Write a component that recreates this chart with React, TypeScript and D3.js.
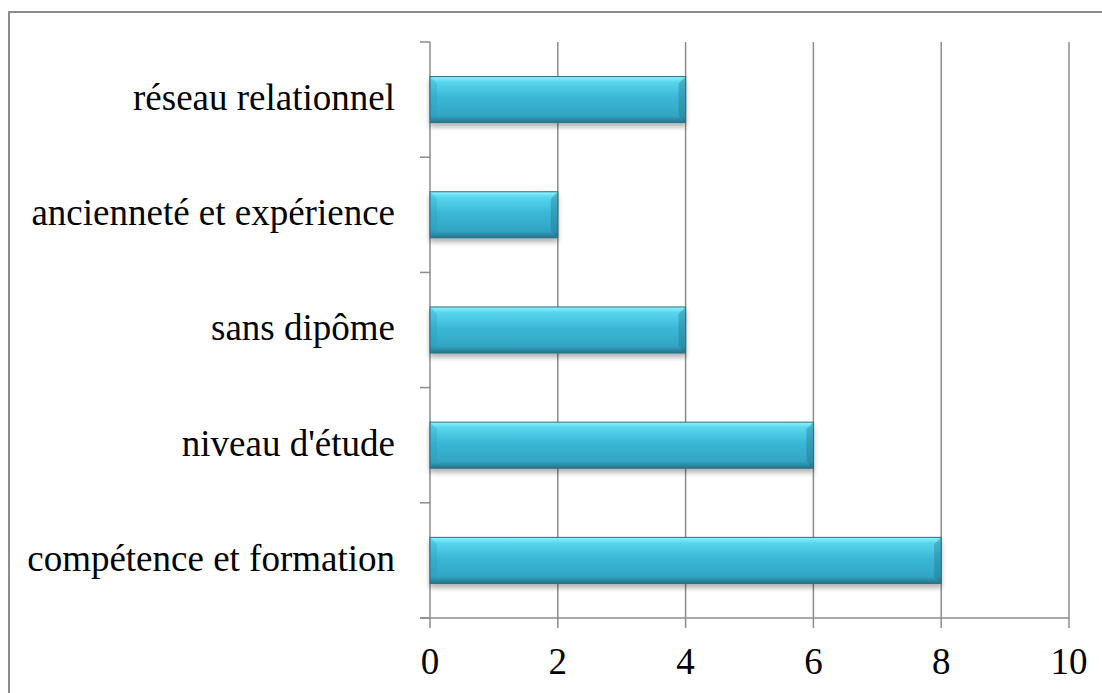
import React from 'react';
import * as d3 from 'd3';

// categories top -> bottom as drawn
const categories = [
  'réseau relationnel',
  'ancienneté et expérience',
  'sans dipôme',
  "niveau d'étude",
  'compétence et formation',
];
const values = [4, 2, 4, 6, 8];
const xTicks = [0, 2, 4, 6, 8, 10];

const W = 1102;
const H = 693;
const margin = { top: 42, right: 33, bottom: 75, left: 430 };
const FONT = 'Liberation Serif';
const GRID = '#8c8c8c';

const App = () => {
  const x = d3.scaleLinear()
    .domain([0, 10])
    .range([margin.left, W - margin.right]);

  const y = d3.scaleBand()
    .domain(categories)
    .range([margin.top, H - margin.bottom])
    .paddingInner(0.6)
    .paddingOuter(0.3);

  const yBottom = H - margin.bottom;
  const bandEdges = d3.range(categories.length + 1)
    .map(i => margin.top + i * (yBottom - margin.top) / categories.length);
  const bh = y.bandwidth();
  const bev = 7;

  return (
    <svg width={W} height={H} fontFamily={FONT}
      style={{ position: 'absolute', left: 0, top: 0, display: 'block' }}>
      <defs>
        <linearGradient id="barGrad" x1="0" y1="0" x2="0" y2="1">
          <stop offset="0%" stopColor="#8ff3ff" />
          <stop offset="12%" stopColor="#58d6ee" />
          <stop offset="45%" stopColor="#3ab8d6" />
          <stop offset="85%" stopColor="#32a5c3" />
          <stop offset="100%" stopColor="#25748a" />
        </linearGradient>
        <filter id="shadow" x="-5%" y="-20%" width="110%" height="160%">
          <feGaussianBlur in="SourceAlpha" stdDeviation="2.5" />
          <feOffset dx="0" dy="4" result="off" />
          <feComponentTransfer>
            <feFuncA type="linear" slope="0.3" />
          </feComponentTransfer>
          <feMerge>
            <feMergeNode />
            <feMergeNode in="SourceGraphic" />
          </feMerge>
        </filter>
      </defs>

      {/* outer frame */}
      <rect x={9} y={12} width={W + 20} height={H + 20} fill="white" stroke={GRID} strokeWidth={2} />

      {/* vertical gridlines */}
      {xTicks.map(t => (
        <line key={'g' + t} x1={x(t)} x2={x(t)} y1={margin.top} y2={yBottom + 10}
          stroke={GRID} strokeWidth={1.5} />
      ))}

      {/* category ticks */}
      {bandEdges.map((e, i) => (
        <line key={'c' + i} x1={x(0) - 10} x2={x(0)} y1={e} y2={e} stroke={GRID} strokeWidth={1.5} />
      ))}

      {/* x axis line */}
      <line x1={x(0) - 10} x2={x(10)} y1={yBottom} y2={yBottom} stroke={GRID} strokeWidth={1.5} />

      {/* bars */}
      {categories.map((c, i) => {
        const x0 = x(0);
        const x1 = x(values[i]);
        const y0 = y(c)!;
        return (
          <g key={c} filter="url(#shadow)">
            <rect x={x0} y={y0} width={x1 - x0} height={bh} fill="url(#barGrad)" />
            <path d={`M${x0},${y0}L${x0 + bev},${y0 + bev}L${x0 + bev},${y0 + bh - bev}L${x0},${y0 + bh}Z`}
              fill="#2a94b0" opacity={0.25} />
            <path d={`M${x1},${y0}L${x1 - bev},${y0 + bev}L${x1 - bev},${y0 + bh - bev}L${x1},${y0 + bh}Z`}
              fill="#1f6d82" opacity={0.35} />
            <rect x={x0} y={y0} width={x1 - x0} height={bh} fill="none" stroke="#2b6f80" strokeWidth={1} />
          </g>
        );
      })}

      {/* category labels */}
      {categories.map(c => (
        <text key={'l' + c} x={395} y={y(c)! + bh / 2} dy="0.28em" textAnchor="end"
          fontFamily={FONT} fontSize={37} fill="#000">{c}</text>
      ))}

      {/* tick labels */}
      {xTicks.map(t => (
        <text key={'t' + t} x={x(t)} y={674} textAnchor="middle"
          fontFamily={FONT} fontSize={37} fill="#000">{t}</text>
      ))}
    </svg>
  );
};

export default App;
